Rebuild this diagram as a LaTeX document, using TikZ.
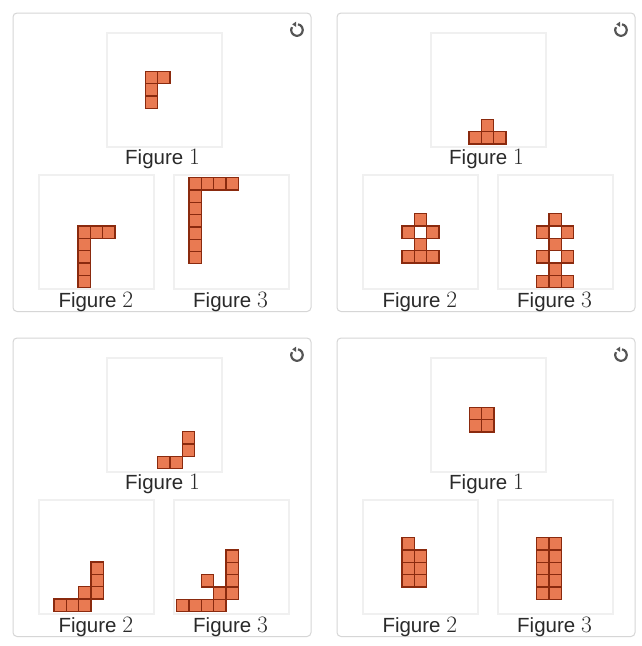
\documentclass[tikz,border=0pt]{standalone}
\usepackage{fontspec}
\newfontfamily\labfont{Liberation Sans}
\usetikzlibrary{arrows.meta}
\definecolor{cellfill}{HTML}{E97A52}
\definecolor{celledge}{HTML}{8A2A0E}
\definecolor{panelgray}{HTML}{D6D6D6}
\definecolor{boxgray}{HTML}{F0F0F0}
\definecolor{txt}{HTML}{2A2A2A}
\definecolor{iconcol}{HTML}{555555}
\newcommand\csz{12.3}
\newcommand\digit[1]{{\fontsize{23.5}{23.5}\selectfont\rmfamily #1}}
\newcommand\drawcells[3]{%
  \foreach \c/\r in {#3} {\filldraw[cellst] ({#1+\c*\csz},{#2+\r*\csz}) rectangle ++(\csz,\csz);}}
\newcommand\panelbox[3]{%
  \draw[panelst] (#1,#2) rectangle ++(298,298.5);
  \draw[boxst] ({#1+94},{#2+20}) rectangle ++(115,114);
  \draw[boxst] ({#1+26.3},{#2+162}) rectangle ++(114.7,114.3);
  \draw[boxst] ({#1+161},{#2+162}) rectangle ++(115,114);
  \node[lab] (#3-l1) at ({#1+149.5},{#2+151}) {\labfont Figure \digit{1}};
  \node[lab] (#3-l2) at ({#1+82.8},{#2+294}) {\labfont Figure \digit{2}};
  \node[lab] (#3-l3) at ({#1+217.5},{#2+294}) {\labfont Figure \digit{3}};
  \begin{scope}[shift={({#1+284},{#2+17})},y=1pt]
    \draw[iconst] (150:5.8) arc[start angle=150, end angle=440, radius=5.8];
    \fill[iconcol] (-0.8,8.4) -- (-0.8,3.0) -- (-4.8,5.7) -- cycle;
  \end{scope}
}
\tikzset{
  cellst/.style={fill=cellfill, draw=celledge, line width=1.3pt},
  panelst/.style={draw=panelgray, line width=1pt, rounded corners=4pt},
  boxst/.style={draw=boxgray, line width=2.2pt},
  lab/.style={anchor=base, text=txt, inner sep=0pt, font=\fontsize{20.5}{22}\selectfont},
  iconst/.style={draw=iconcol, line width=2.2pt}
}
\begin{document}
\begin{tikzpicture}[x=1pt,y=-1pt]
\useasboundingbox[fill=white] (0,0) rectangle (642,646);
\panelbox{13}{13}{tl}
\panelbox{337}{13}{tr}
\panelbox{13}{338}{bl}
\panelbox{337}{338}{br}
% top-left
\drawcells{145.3}{71.3}{0/0,1/0,0/1,0/2}
\drawcells{78}{226}{0/0,1/0,2/0,0/1,0/2,0/3,0/4}
\drawcells{189}{177.7}{0/0,1/0,2/0,3/0,0/1,0/2,0/3,0/4,0/5,0/6}
% top-right
\drawcells{469}{119.3}{1/0,0/1,1/1,2/1}
\drawcells{402}{213.7}{1/0,0/1,2/1,1/2,0/3,1/3,2/3}
\drawcells{536.7}{213.7}{1/0,0/1,2/1,1/2,0/3,2/3,1/4,0/5,1/5,2/5}
% bottom-left
\drawcells{157.7}{431.7}{2/0,2/1,0/2,1/2}
\drawcells{54}{562}{3/0,3/1,2/2,3/2,0/3,1/3,2/3}
\drawcells{176.7}{550}{4/0,4/1,2/2,4/2,3/3,4/3,0/4,1/4,2/4,3/4}
% bottom-right
\drawcells{469.3}{407.3}{0/0,1/0,0/1,1/1}
\drawcells{402}{537.7}{0/0,0/1,1/1,0/2,1/2,0/3,1/3}
\drawcells{536.7}{537.7}{0/0,1/0,0/1,1/1,0/2,1/2,0/3,1/3,0/4,1/4}
\end{tikzpicture}
\end{document}
